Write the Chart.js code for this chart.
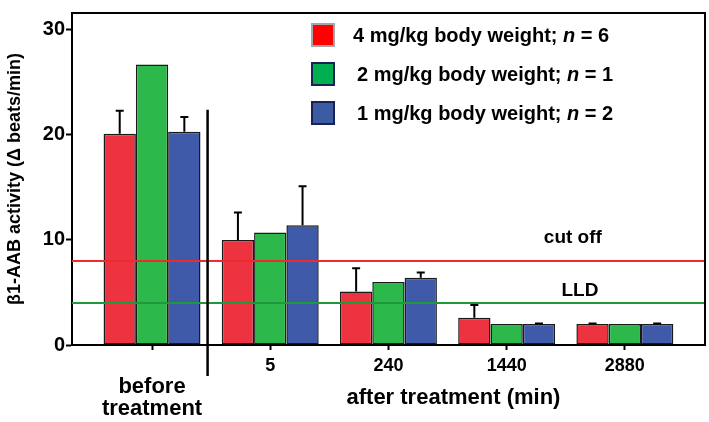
<!DOCTYPE html>
<html>
<head>
<meta charset="utf-8">
<script src="https://cdn.jsdelivr.net/npm/chart.js@4/dist/chart.umd.min.js"></script>
<style>
  body { margin: 0; background: #fff; }
  #wrap { width: 709px; height: 422px; }
</style>
</head>
<body>
<div id="wrap"><canvas id="beta-chart"></canvas></div>
<script>
// values
const categories = ['before treatment', '5', '240', '1440', '2880'];
const xLabels = [['', 'before', 'treatment'], '5', '240', '1440', '2880'];
const yTicks = [0, 10, 20, 30];

const doses = ['4', '2', '1'];
const nCounts = [6, 1, 2];

const red4 = [20.1, 10.0, 5.1, 2.6, 2.0];
const green2 = [26.7, 10.7, 6.0, 2.0, 2.0];
const blue1 = [20.3, 11.4, 6.4, 2.0, 2.0];

const red4Err = [2.2, 2.6, 2.2, 1.2, 0.05];
const green2Err = [null, null, null, null, null];
const blue1Err = [1.4, 3.7, 0.5, 0.05, 0.05];

const cutOff = 8;
const lld = 4;

const barColors = ['#EE3340', '#2DB84B', '#3E5AA8'];
const legendFill = ['#FF0000', '#00B050', '#3B5CA3'];
const legendBorder = ['#A6A6A6', '#1A2255', '#1A2255'];

const FONT = "'Liberation Sans', Arial, sans-serif";

function points(values) {
    return values.map(function (v, i) { return { x: i, y: v }; });
}

const seriesValues = [red4, green2, blue1];
const seriesErrors = [red4Err, green2Err, blue1Err];

const datasets = seriesValues.map(function (vals, k) {
    return {
        label: doses[k] + ' mg/kg body weight; n = ' + nCounts[k],
        data: points(vals),
        errors: seriesErrors[k],
        backgroundColor: barColors[k],
        borderColor: '#1a1a1a',
        borderWidth: 1.5,
        borderSkipped: false,
        categoryPercentage: 0.82,
        barPercentage: 1
    };
});

const extras = {
    id: 'extras',
    afterDatasetsDraw: function (chart) {
        const ctx = chart.ctx;
        const area = chart.chartArea;
        const xs = chart.scales.x;
        const ys = chart.scales.y;
        ctx.save();

        // error bars (upper only)
        ctx.strokeStyle = '#000';
        ctx.lineWidth = 2;
        chart.data.datasets.forEach(function (ds, k) {
            const meta = chart.getDatasetMeta(k);
            ds.errors.forEach(function (e, i) {
                if (e == null) return;
                const bar = meta.data[i];
                const yTop = ys.getPixelForValue(ds.data[i].y + e);
                ctx.beginPath();
                ctx.moveTo(bar.x, bar.y);
                ctx.lineTo(bar.x, yTop);
                ctx.moveTo(bar.x - 4, yTop);
                ctx.lineTo(bar.x + 4, yTop);
                ctx.stroke();
            });
        });

        // cut off / LLD lines
        [[cutOff, '#EE2A2E'], [lld, '#1E9A3A']].forEach(function (l) {
            const y = ys.getPixelForValue(l[0]);
            ctx.strokeStyle = l[1];
            ctx.lineWidth = 2;
            ctx.beginPath();
            ctx.moveTo(area.left, y);
            ctx.lineTo(area.right, y);
            ctx.stroke();
        });

        ctx.fillStyle = '#000';
        ctx.textAlign = 'center';
        ctx.textBaseline = 'middle';
        ctx.font = 'bold 19px ' + FONT;
        ctx.fillText('cut off', xs.getPixelForValue(3.56), ys.getPixelForValue(10.25));
        ctx.fillText('LLD', xs.getPixelForValue(3.62), ys.getPixelForValue(5.15));

        // plot frame (top + right)
        ctx.strokeStyle = '#000';
        ctx.lineWidth = 2;
        ctx.beginPath();
        ctx.moveTo(area.left, area.top);
        ctx.lineTo(area.right, area.top);
        ctx.lineTo(area.right, area.bottom);
        ctx.stroke();

        // separator between before / after
        const sx = xs.getPixelForValue(0.47);
        ctx.lineWidth = 2.5;
        ctx.beginPath();
        ctx.moveTo(sx, ys.getPixelForValue(22.4));
        ctx.lineTo(sx, area.bottom + 31);
        ctx.stroke();

        // x axis caption
        ctx.font = 'bold 22px ' + FONT;
        ctx.fillText('after treatment (min)', xs.getPixelForValue(2.55), 398);

        // legend
        const rows = [35, 74, 113];
        const textX = [353, 357, 357];
        ctx.textAlign = 'left';
        rows.forEach(function (y, k) {
            ctx.fillStyle = legendFill[k];
            ctx.fillRect(312, y - 11, 22, 22);
            ctx.strokeStyle = legendBorder[k];
            ctx.lineWidth = 2;
            ctx.strokeRect(312, y - 11, 22, 22);

            ctx.fillStyle = '#000';
            let x = textX[k];
            const parts = [
                ['bold 20px ', doses[k] + ' mg/kg body weight; '],
                ['italic bold 20px ', 'n'],
                ['bold 20px ', ' = ' + nCounts[k]]
            ];
            parts.forEach(function (p) {
                ctx.font = p[0] + FONT;
                ctx.fillText(p[1], x, y + 1);
                x += ctx.measureText(p[1]).width;
            });
        });

        ctx.restore();
    }
};

new Chart(document.getElementById('beta-chart'), {
    type: 'bar',
    data: { datasets: datasets },
    options: {
        responsive: true,
        maintainAspectRatio: false,
        animation: false,
        layout: { padding: { top: 3, right: 4, left: 0, bottom: 0 } },
        plugins: {
            legend: { display: false },
            tooltip: { enabled: false }
        },
        scales: {
            x: {
                type: 'linear',
                offset: false,
                min: -0.677,
                max: 4.678,
                afterBuildTicks: function (scale) {
                    scale.ticks = categories.map(function (c, i) { return { value: i }; });
                },
                afterFit: function (scale) { scale.height = 77; },
                grid: {
                    display: true,
                    offset: false,
                    drawOnChartArea: false,
                    drawTicks: true,
                    tickLength: 5,
                    tickColor: '#000',
                    tickWidth: 2
                },
                border: { display: true, color: '#000', width: 2 },
                ticks: {
                    autoSkip: false,
                    maxRotation: 0,
                    padding: 5,
                    color: '#000',
                    font: function (c) {
                        return c.index === 0
                            ? { family: FONT, size: 22, weight: 'bold', lineHeight: 0.98 }
                            : { family: FONT, size: 18, weight: 'bold', lineHeight: 1.2 };
                    },
                    callback: function (v) { return xLabels[v]; }
                }
            },
            y: {
                min: 0,
                max: 31.6,
                afterBuildTicks: function (scale) {
                    scale.ticks = yTicks.map(function (v) { return { value: v }; });
                },
                afterFit: function (scale) { scale.width = 72; },
                grid: {
                    display: true,
                    drawOnChartArea: false,
                    drawTicks: true,
                    tickLength: 6,
                    tickColor: '#000',
                    tickWidth: 2
                },
                border: { display: true, color: '#000', width: 2 },
                ticks: {
                    padding: 1,
                    color: '#000',
                    font: { family: FONT, size: 20, weight: 'bold' }
                },
                title: {
                    display: true,
                    text: 'β1-AAB activity (Δ beats/min)',
                    color: '#000',
                    font: { family: FONT, size: 18, weight: 'bold' },
                    padding: { top: 4, bottom: 0 }
                }
            }
        }
    },
    plugins: [extras]
});
</script>
</body>
</html>
